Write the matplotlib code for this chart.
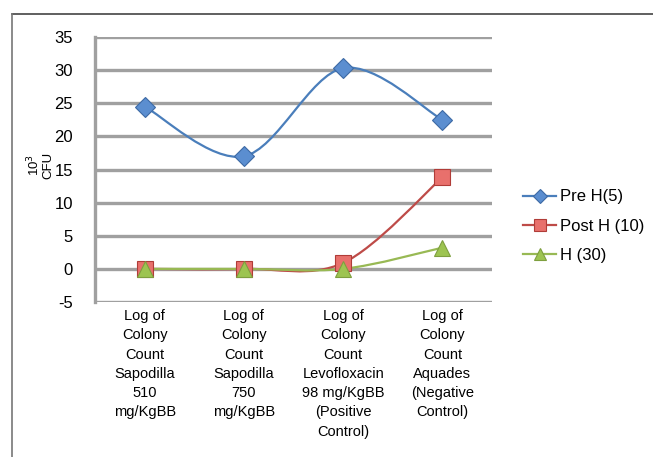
import numpy as np
import matplotlib.pyplot as plt
from matplotlib.path import Path
from matplotlib.patches import PathPatch
from matplotlib.lines import Line2D

plt.rcParams['font.family'] = ['Liberation Sans', 'DejaVu Sans']

categories = [
    'Log of\nColony\nCount\nSapodilla\n510\nmg/KgBB',
    'Log of\nColony\nCount\nSapodilla\n750\nmg/KgBB',
    'Log of\nColony\nCount\nLevofloxacin\n98 mg/KgBB\n(Positive\nControl)',
    'Log of\nColony\nCount\nAquades\n(Negative\nControl)',
]
pre_h5 = [24.5, 17.0, 30.3, 22.5]
post_h10 = [0.0, 0.0, 0.9, 13.8]
h30 = [0.0, 0.0, 0.0, 3.2]
y_ticks = [-5, 0, 5, 10, 15, 20, 25, 30, 35]


def smooth_path(xs, ys):
    # excel style smoothed line: cubic bezier, control points from neighbours
    pts = np.column_stack([xs, ys]).astype(float)
    n = len(pts)
    verts = [pts[0]]
    codes = [Path.MOVETO]
    for i in range(n - 1):
        p_prev = pts[i - 1] if i > 0 else pts[i]
        p_next2 = pts[i + 2] if i + 2 < n else pts[i + 1]
        c1 = pts[i] + (pts[i + 1] - p_prev) / 6
        c2 = pts[i + 1] - (p_next2 - pts[i]) / 6
        verts += [c1, c2, pts[i + 1]]
        codes += [Path.CURVE4] * 3
    return Path(verts, codes)


fig = plt.figure(figsize=(6.53, 4.57), dpi=100)
ax = fig.add_axes([95 / 653, 1 - 302 / 457, 397 / 653, 265 / 457])

series = [
    ('Pre H(5)', pre_h5, '#4A7EBB', 'D', '#5B8ED0', '#3D6AA5', 10),
    ('Post H (10)', post_h10, '#BE4B48', 's', '#E8706C', '#B03C38', 11),
    ('H (30)', h30, '#98B954', '^', '#9DC451', '#7E9F3F', 12),
]

x = np.arange(len(categories))
handles = []
for name, vals, col, mk, fc, ec, ms in series:
    ax.add_patch(PathPatch(smooth_path(x, vals), fill=False, edgecolor=col,
                           lw=1.6, zorder=3))
    ax.plot(x, vals, ls='none', marker=mk, ms=ms, mfc=fc, mec=ec, mew=0.8,
            zorder=4)
    handles.append(Line2D([], [], color=col, lw=1.6, marker=mk, ms=ms * 0.75,
                          mfc=fc, mec=ec, mew=0.8))

ax.set_xlim(-0.5, len(categories) - 0.5)
ax.set_ylim(-5, 35)
ax.set_yticks(y_ticks)
ax.set_yticklabels([str(v) for v in y_ticks], fontsize=12)
ax.set_xticks(x)
ax.set_xticklabels(categories, fontsize=10.5, linespacing=1.48, va='top')
ax.tick_params(axis='y', length=0, pad=16)
ax.tick_params(axis='x', length=0, pad=5)
ax.grid(axis='y', color='#A0A0A0', lw=2.4, zorder=0)
for s in ['top', 'right', 'bottom']:
    ax.spines[s].set_visible(False)
ax.spines['left'].set_color('#A0A0A0')
ax.spines['left'].set_linewidth(2.4)

fig.text(40 / 653, 1 - 165 / 457, '10$^3$\nCFU', rotation=90, fontsize=9.5,
         ha='center', va='center', linespacing=1.0)

fig.legend(handles, [s[0] for s in series], loc='center left',
           bbox_to_anchor=(508 / 653, 1 - 226 / 457), frameon=False,
           fontsize=12, handlelength=2.0, handletextpad=0.2, labelspacing=0.85)

# outer frame
fig.add_artist(Line2D([12 / 653, 1], [1 - 14 / 457] * 2, color='#444444', lw=1.2))
fig.add_artist(Line2D([12 / 653] * 2, [0, 1 - 14 / 457], color='#777777', lw=1.2))

fig.savefig('out.png', dpi=100)
